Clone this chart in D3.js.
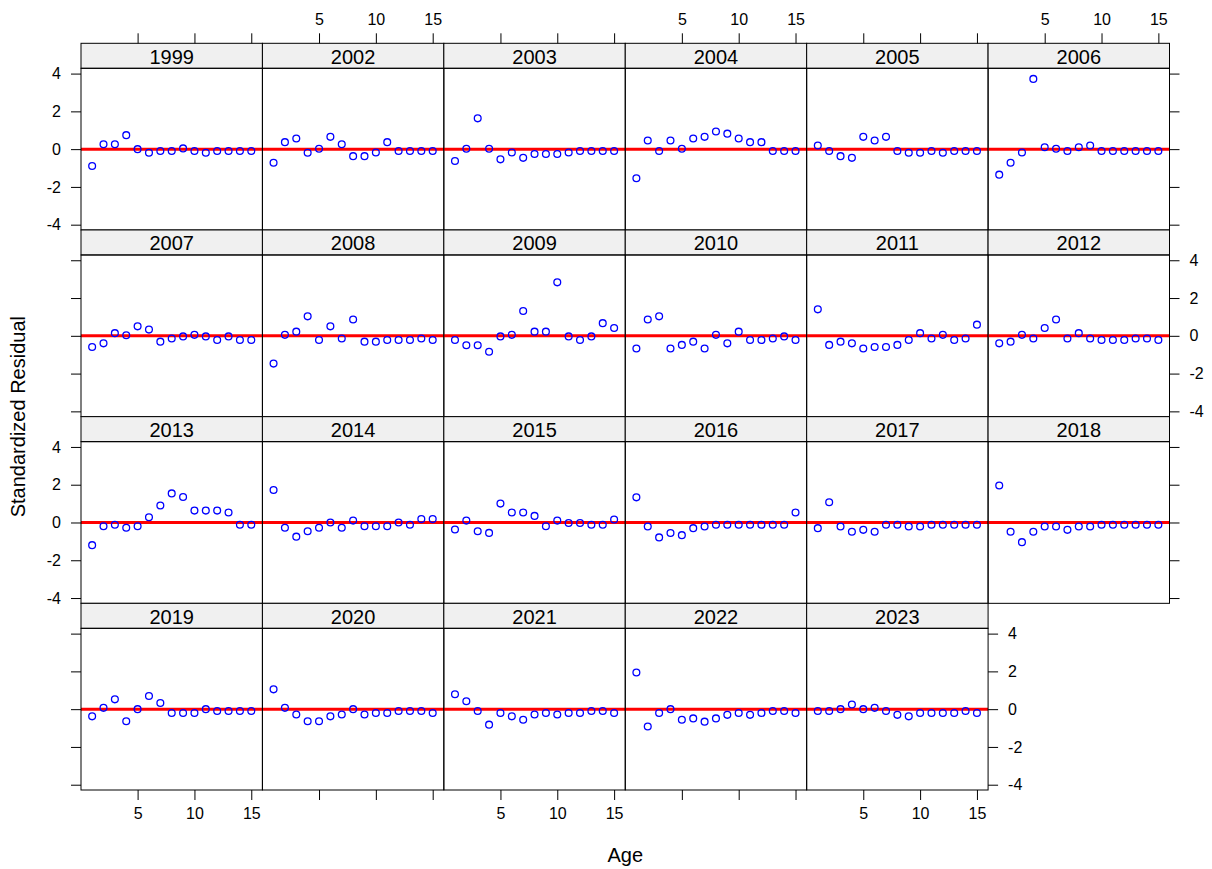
<!DOCTYPE html>
<html>
<head>
<meta charset="utf-8">
<script src="https://cdn.jsdelivr.net/npm/d3@7"></script>
<style>
  html, body { margin: 0; padding: 0; background: #fff; }
  svg { display: block; font-family: "Liberation Sans", Arial, sans-serif; }
  .tick text { font-family: "Liberation Sans", Arial, sans-serif; }
</style>
</head>
<body>
<svg id="chart" width="1212" height="869"></svg>
<script>
// ---------------- data ----------------
const years = [1999, 2002, 2003, 2004, 2005, 2006, 2007, 2008, 2009, 2010, 2011, 2012,
               2013, 2014, 2015, 2016, 2017, 2018, 2019, 2020, 2021, 2022, 2023];
const ages = [1, 2, 3, 4, 5, 6, 7, 8, 9, 10, 11, 12, 13, 14, 15];
const xTicks = [5, 10, 15];
const yTicks = [-4, -2, 0, 2, 4];
const xLabel = "Age";
const yLabel = "Standardized Residual";

const r1999 = [-0.89, 0.26, 0.26, 0.74, 0.00, -0.19, -0.10, -0.10, 0.04, -0.10, -0.19, -0.10, -0.10, -0.10, -0.10];
const r2002 = [-0.72, 0.37, 0.56, -0.19, 0.02, 0.65, 0.26, -0.37, -0.37, -0.18, 0.37, -0.10, -0.10, -0.10, -0.10];
const r2003 = [-0.63, 0.02, 1.63, 0.02, -0.54, -0.18, -0.46, -0.26, -0.26, -0.26, -0.18, -0.10, -0.10, -0.10, -0.10];
const r2004 = [-1.54, 0.46, -0.10, 0.46, 0.02, 0.56, 0.65, 0.93, 0.82, 0.56, 0.37, 0.37, -0.10, -0.10, -0.10];
const r2005 = [0.19, -0.10, -0.37, -0.46, 0.65, 0.46, 0.65, -0.10, -0.19, -0.19, -0.10, -0.19, -0.10, -0.10, -0.10];
const r2006 = [-1.35, -0.72, -0.18, 3.72, 0.10, 0.02, -0.10, 0.10, 0.19, -0.10, -0.10, -0.10, -0.10, -0.10, -0.10];
const r2007 = [-0.59, -0.40, 0.14, 0.03, 0.50, 0.33, -0.31, -0.14, -0.03, 0.05, -0.03, -0.22, -0.03, -0.22, -0.22];
const r2008 = [-1.47, 0.05, 0.22, 1.03, -0.22, 0.50, -0.14, 0.86, -0.31, -0.31, -0.22, -0.22, -0.22, -0.14, -0.22];
const r2009 = [-0.22, -0.50, -0.50, -0.84, -0.03, 0.05, 1.31, 0.22, 0.22, 2.83, -0.03, -0.22, -0.03, 0.67, 0.41];
const r2010 = [-0.67, 0.86, 1.03, -0.67, -0.48, -0.31, -0.67, 0.05, -0.40, 0.22, -0.22, -0.22, -0.14, -0.03, -0.22];
const r2011 = [1.40, -0.48, -0.31, -0.40, -0.67, -0.59, -0.59, -0.48, -0.22, 0.14, -0.14, 0.05, -0.22, -0.14, 0.59];
const r2012 = [-0.40, -0.31, 0.05, -0.14, 0.41, 0.86, -0.14, 0.14, -0.14, -0.22, -0.22, -0.22, -0.14, -0.14, -0.22];
const r2013 = [-1.20, -0.20, -0.12, -0.28, -0.20, 0.28, 0.90, 1.54, 1.35, 0.63, 0.63, 0.63, 0.53, -0.12, -0.12];
const r2014 = [1.72, -0.28, -0.75, -0.46, -0.28, 0.00, -0.28, 0.10, -0.20, -0.20, -0.20, 0.00, -0.12, 0.18, 0.18];
const r2015 = [-0.37, 0.10, -0.46, -0.55, 1.00, 0.53, 0.53, 0.35, -0.20, 0.10, -0.03, -0.03, -0.12, -0.12, 0.16];
const r2016 = [1.33, -0.21, -0.79, -0.56, -0.67, -0.30, -0.21, -0.12, -0.12, -0.12, -0.12, -0.12, -0.12, -0.12, 0.53];
const r2017 = [-0.30, 1.07, -0.21, -0.49, -0.39, -0.49, -0.12, -0.12, -0.21, -0.21, -0.12, -0.12, -0.12, -0.12, -0.12];
const r2018 = [1.96, -0.49, -1.04, -0.49, -0.21, -0.21, -0.39, -0.21, -0.21, -0.12, -0.12, -0.12, -0.12, -0.12, -0.12];
const r2019 = [-0.38, 0.07, 0.52, -0.64, 0.00, 0.70, 0.33, -0.20, -0.20, -0.20, 0.00, -0.10, -0.10, -0.10, -0.10];
const r2020 = [1.05, 0.07, -0.28, -0.64, -0.64, -0.38, -0.28, 0.00, -0.28, -0.20, -0.20, -0.10, -0.10, -0.10, -0.20];
const r2021 = [0.79, 0.42, -0.10, -0.82, -0.20, -0.38, -0.56, -0.28, -0.20, -0.28, -0.20, -0.20, -0.10, -0.10, -0.20];
const r2022 = [1.94, -0.92, -0.20, 0.00, -0.56, -0.49, -0.66, -0.49, -0.30, -0.20, -0.30, -0.20, -0.10, -0.10, -0.20];
const r2023 = [-0.10, -0.10, 0.00, 0.25, 0.00, 0.07, -0.10, -0.30, -0.38, -0.20, -0.20, -0.20, -0.20, -0.10, -0.20];

const residuals = [r1999, r2002, r2003, r2004, r2005, r2006, r2007, r2008, r2009, r2010, r2011, r2012,
                   r2013, r2014, r2015, r2016, r2017, r2018, r2019, r2020, r2021, r2022, r2023];

// ---------------- layout ----------------
const svg = d3.select("#chart");
const plotL = 81, plotR = 1169.5, plotT = 43.3, plotB = 790;
const ncol = 6, nrow = 4;
const colW = (plotR - plotL) / ncol;
const rowH = (plotB - plotT) / nrow;
const stripH = 25;
const panelH = rowH - stripH;
const tickLen = 10;
const fontTick = 16, fontStrip = 20, fontTitle = 20;

const x = d3.scaleLinear().domain([0.02, 15.98]).range([0, colW]);
const y = d3.scaleLinear().domain([-4.28, 4.28]).range([panelH, 0]);

const fmt = d => String(d);   // ASCII hyphen minus like the R output
const blank = () => "";

function styleAxis(g) {
  g.select(".domain").remove();
  g.selectAll(".tick line").attr("stroke", "#000").attr("stroke-width", 1);
  g.selectAll(".tick text").attr("fill", "#000").style("font-size", fontTick + "px");
}

years.forEach((yr, i) => {
  const col = i % ncol, row = Math.floor(i / ncol);
  const px = plotL + col * colW;
  const py = plotT + row * rowH;
  const g = svg.append("g").attr("transform", `translate(${px},${py})`);

  // strip
  g.append("rect").attr("x", 0).attr("y", 0).attr("width", colW).attr("height", stripH)
    .attr("fill", "#f0f0f0").attr("stroke", "none");
  g.append("text").attr("x", colW / 2).attr("y", stripH / 2 + 1)
    .attr("text-anchor", "middle").attr("dominant-baseline", "central")
    .style("font-size", fontStrip + "px").attr("fill", "#000").text(yr);

  const pg = g.append("g").attr("transform", `translate(0,${stripH})`);
  const clipId = "clip" + i;
  pg.append("clipPath").attr("id", clipId).append("rect")
    .attr("width", colW).attr("height", panelH);

  const inner = pg.append("g").attr("clip-path", `url(#${clipId})`);
  // zero reference line
  inner.append("line").attr("x1", 0).attr("x2", colW)
    .attr("y1", y(0)).attr("y2", y(0))
    .attr("stroke", "#ff0000").attr("stroke-width", 3);
  // points
  inner.selectAll("circle").data(ages.map((a, k) => ({ a, v: residuals[i][k] })))
    .enter().append("circle")
    .attr("cx", d => x(d.a)).attr("cy", d => y(d.v)).attr("r", 3.4)
    .attr("fill", "none").attr("stroke", "#0000ff").attr("stroke-width", 1.3);

  // borders
  g.append("rect").attr("x", 0).attr("y", 0).attr("width", colW).attr("height", stripH)
    .attr("fill", "none").attr("stroke", "#000").attr("stroke-width", 1);
  pg.append("rect").attr("x", 0).attr("y", 0).attr("width", colW).attr("height", panelH)
    .attr("fill", "none").attr("stroke", "#000").attr("stroke-width", 1);

  // axes (lattice alternating)
  const lastInRow = (col === ncol - 1) || (i === years.length - 1);
  if (col === 0) {
    const ax = d3.axisLeft(y).tickValues(yTicks).tickSize(tickLen).tickPadding(10)
      .tickFormat(row % 2 === 0 ? fmt : blank);
    pg.append("g").call(ax).call(styleAxis);
  }
  if (lastInRow) {
    const ax = d3.axisRight(y).tickValues(yTicks).tickSize(tickLen).tickPadding(10)
      .tickFormat(row % 2 === 1 ? fmt : blank);
    pg.append("g").attr("transform", `translate(${colW},0)`).call(ax).call(styleAxis);
  }
  if (row === 0) {
    const ax = d3.axisTop(x).tickValues(xTicks).tickSize(tickLen).tickPadding(8)
      .tickFormat(col % 2 === 1 ? fmt : blank);
    g.append("g").call(ax).call(styleAxis);
  }
  if (row === nrow - 1) {
    const ax = d3.axisBottom(x).tickValues(xTicks).tickSize(tickLen).tickPadding(8)
      .tickFormat(col % 2 === 0 ? fmt : blank);
    pg.append("g").attr("transform", `translate(0,${panelH})`).call(ax).call(styleAxis);
  }
});

// axis titles
svg.append("text").attr("x", (plotL + plotR) / 2).attr("y", 855)
  .attr("text-anchor", "middle").attr("dominant-baseline", "central")
  .style("font-size", fontTitle + "px").attr("fill", "#000").text(xLabel);
svg.append("text")
  .attr("transform", `translate(18,${(plotT + plotB) / 2}) rotate(-90)`)
  .attr("text-anchor", "middle").attr("dominant-baseline", "central")
  .style("font-size", fontTitle + "px").attr("fill", "#000").text(yLabel);
</script>
</body>
</html>
